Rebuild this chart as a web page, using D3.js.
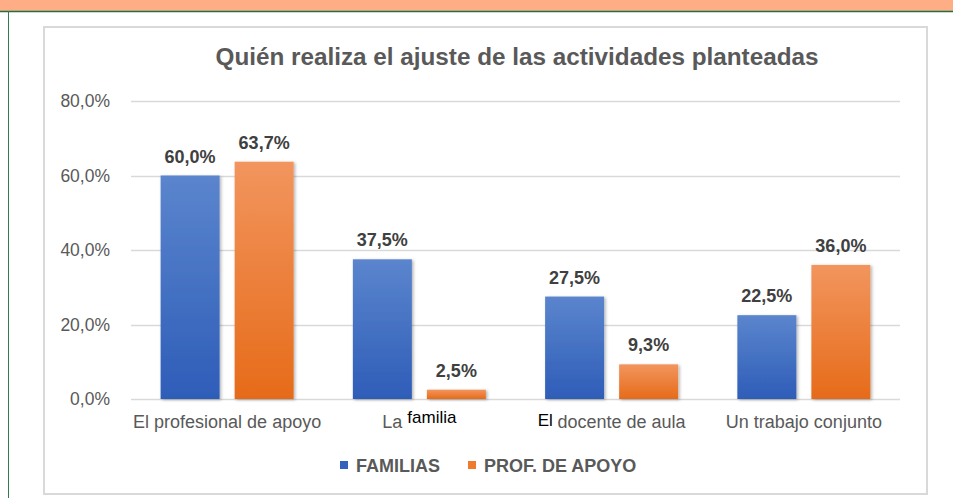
<!DOCTYPE html>
<html>
<head>
<meta charset="utf-8">
<script src="https://cdn.jsdelivr.net/npm/d3@7"></script>
<style>
  body { margin: 0; background: #fff; }
  svg text { font-family: "Liberation Sans", Arial, sans-serif; }
</style>
</head>
<body>
<div id="chart"></div>
<script>
// chart data
let categories = ['El profesional de apoyo', 'La familia', 'El docente de aula', 'Un trabajo conjunto'];
let series = ['FAMILIAS', 'PROF. DE APOYO'];
let familias = [0.600, 0.375, 0.275, 0.225];
let profApoyo = [0.637, 0.025, 0.093, 0.360];
let yTicks = [0, 0.2, 0.4, 0.6, 0.8];

let width = 953;
let height = 498;

let seriesValues = { 'FAMILIAS': familias, 'PROF. DE APOYO': profApoyo };
let rows = categories.map((c, i) => ({ cat: c, values: series.map(s => ({ key: s, value: seriesValues[s][i] })) }));

let fmt = v => d3.format('.1f')(v * 100).replace('.', ',') + '%';

let svg = d3.select('#chart').append('svg')
    .attr('width', width)
    .attr('height', height);

let defs = svg.append('defs');

// gradients for the bars
let gradColors = {
  'FAMILIAS': ['#5B85CD', '#2E5DB8'],
  'PROF. DE APOYO': ['#F2955E', '#E66B19']
};
series.forEach((s, i) => {
  let g = defs.append('linearGradient')
      .attr('id', 'grad' + i)
      .attr('x1', 0).attr('y1', 0).attr('x2', 0).attr('y2', 1);
  g.append('stop').attr('offset', '0%').attr('stop-color', gradColors[s][0]);
  g.append('stop').attr('offset', '100%').attr('stop-color', gradColors[s][1]);
});

let shadow = defs.append('filter').attr('id', 'shadow')
    .attr('x', '-20%').attr('y', '-20%').attr('width', '150%').attr('height', '150%');
shadow.append('feDropShadow')
    .attr('dx', 1.5).attr('dy', 1).attr('stdDeviation', 1.5)
    .attr('flood-color', '#000').attr('flood-opacity', 0.3);

// page decoration: banner and green frame
svg.append('rect').attr('x', 0).attr('y', 0).attr('width', width).attr('height', 11).attr('fill', '#FFAD85');
svg.append('line').attr('x1', 0).attr('x2', width).attr('y1', 11.5).attr('y2', 11.5)
    .attr('stroke', '#1E7145').attr('stroke-width', 1.5);
svg.append('line').attr('x1', 8.5).attr('x2', 8.5).attr('y1', 11).attr('y2', height)
    .attr('stroke', '#2E7D4F').attr('stroke-width', 1);

// chart box
svg.append('rect').attr('x', 44).attr('y', 27).attr('width', 883).attr('height', 467)
    .attr('fill', '#fff').attr('stroke', '#D9D9D9').attr('stroke-width', 2);

// title
svg.append('text')
    .attr('x', 517).attr('y', 65)
    .attr('text-anchor', 'middle')
    .attr('font-size', 23).attr('font-weight', 'bold')
    .attr('fill', '#595959')
    .attr('textLength', 603).attr('lengthAdjust', 'spacingAndGlyphs')
    .text('Quién realiza el ajuste de las actividades planteadas');

// scales
let x0 = d3.scaleBand().domain(categories).range([131, 900]).paddingInner(0).paddingOuter(0);
let x1 = d3.scaleBand().domain(series).range([0, x0.bandwidth()]).paddingInner(0.203).paddingOuter(0.4);
let y = d3.scaleLinear().domain([0, 0.8]).range([399, 101]);

// gridlines
svg.append('g').selectAll('line')
    .data(yTicks)
    .enter().append('line')
    .attr('x1', 131).attr('x2', 900)
    .attr('y1', d => Math.round(y(d)) + 0.5).attr('y2', d => Math.round(y(d)) + 0.5)
    .attr('stroke', '#D9D9D9').attr('stroke-width', 1.5);

// y axis labels
svg.append('g').selectAll('text')
    .data(yTicks)
    .enter().append('text')
    .attr('x', 110).attr('y', d => y(d) + 6)
    .attr('text-anchor', 'end')
    .attr('font-size', 17.5).attr('fill', '#595959')
    .text(d => fmt(d));

// bars
let groups = svg.append('g').selectAll('.group')
    .data(rows)
    .enter().append('g')
    .classed('group', true)
    .attr('transform', d => 'translate(' + x0(d.cat) + ',0)');

groups.selectAll('rect')
    .data(d => d.values)
    .enter().append('rect')
    .attr('x', d => x1(d.key))
    .attr('y', d => y(d.value))
    .attr('width', x1.bandwidth())
    .attr('height', d => y(0) - y(d.value))
    .attr('fill', d => 'url(#grad' + series.indexOf(d.key) + ')')
    .attr('filter', 'url(#shadow)');

groups.selectAll('.vlabel')
    .data(d => d.values)
    .enter().append('text')
    .classed('vlabel', true)
    .attr('x', d => x1(d.key) + x1.bandwidth() / 2)
    .attr('y', d => y(d.value) - 13)
    .attr('text-anchor', 'middle')
    .attr('font-size', 18).attr('font-weight', 'bold')
    .attr('fill', '#404040')
    .text(d => fmt(d.value));

// category labels (two of them mix black and gray words as in the source)
let catText = svg.append('g').selectAll('text')
    .data(categories)
    .enter().append('text')
    .attr('x', d => x0(d) + x0.bandwidth() / 2)
    .attr('y', 428)
    .attr('text-anchor', 'middle')
    .attr('font-size', 18).attr('fill', '#595959');

catText.each(function(d) {
  let t = d3.select(this);
  if (d === 'La familia') {
    t.append('tspan').text('La ');
    t.append('tspan').attr('fill', '#000').attr('dy', -5).attr('font-size', 17).text('familia');
  } else if (d === 'El docente de aula') {
    t.append('tspan').attr('fill', '#000').attr('dy', -2).attr('font-size', 17).text('El ');
    t.append('tspan').attr('dy', 2).text('docente de aula');
  } else {
    t.text(d);
  }
});

// legend
let legendColors = { 'FAMILIAS': '#3363BC', 'PROF. DE APOYO': '#EE7B2E' };
let legendX = [340, 468];
let legend = svg.append('g').selectAll('g')
    .data(series)
    .enter().append('g')
    .attr('transform', (d, i) => 'translate(' + legendX[i] + ',465)');
legend.append('rect')
    .attr('x', 0).attr('y', -4).attr('width', 8).attr('height', 8)
    .attr('fill', d => legendColors[d]);
legend.append('text')
    .attr('x', 16).attr('y', 6.5)
    .attr('font-size', 18).attr('font-weight', 'bold')
    .attr('fill', '#595959')
    .text(d => d);
</script>
</body>
</html>
